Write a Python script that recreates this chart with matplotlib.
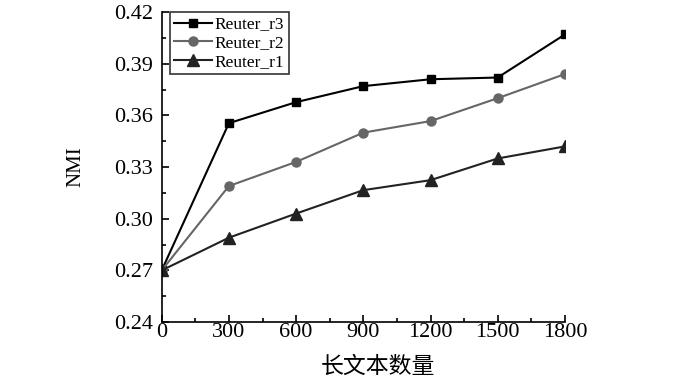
import matplotlib
matplotlib.use("Agg")
from matplotlib import pyplot as plt
from matplotlib.ticker import MultipleLocator, FormatStrFormatter

x = [0, 300, 600, 900, 1200, 1500, 1800]
r3 = [0.270, 0.3555, 0.3677, 0.377, 0.381, 0.382, 0.407]
r2 = [0.270, 0.319, 0.333, 0.350, 0.3567, 0.370, 0.384]
r1 = [0.270, 0.289, 0.303, 0.3166, 0.3224, 0.335, 0.342]

plt.rcParams['font.family'] = ['Liberation Serif', 'Noto Sans CJK SC']

fig = plt.figure(figsize=(7, 3.78), dpi=100)
ax = fig.add_axes([0.231, 0.148, 0.576, 0.82])

ax.plot(x, r3, color='black', marker='s', markersize=6, lw=1.5, label='Reuter_r3')
ax.plot(x, r2, color='#666666', marker='o', markersize=6.5, lw=1.5, label='Reuter_r2')
ax.plot(x, r1, color='#222222', marker='^', markersize=9, lw=1.5, label='Reuter_r1')

ax.set_xlim(0, 1800)
ax.set_ylim(0.24, 0.42)
ax.xaxis.set_major_locator(MultipleLocator(300))
ax.xaxis.set_minor_locator(MultipleLocator(150))
ax.yaxis.set_major_locator(MultipleLocator(0.03))
ax.yaxis.set_minor_locator(MultipleLocator(0.015))
ax.yaxis.set_major_formatter(FormatStrFormatter('%.2f'))
ax.tick_params(which='both', direction='in', labelsize=16, width=1.2)
ax.tick_params(which='major', length=5)
ax.tick_params(which='minor', length=3)
ax.tick_params(axis='y', pad=6)
ax.tick_params(axis='x', pad=1)
ax.spines['top'].set_visible(False)
ax.spines['right'].set_visible(False)
for s in ['left', 'bottom']:
    ax.spines[s].set_linewidth(1.2)

ax.set_ylabel('NMI', fontsize=15)
ax.yaxis.set_label_coords(-0.19, 0.5)
ax.set_xlabel('长文本数量', fontsize=16.5, family=['Noto Sans CJK SC'])
ax.xaxis.set_label_coords(0.535, -0.105)

leg = ax.legend(loc='upper left', fontsize=12.5, frameon=True, fancybox=False,
                edgecolor='black', handlelength=2.2, borderpad=0.25,
                labelspacing=0.15, handletextpad=0.15, borderaxespad=0.0,
                bbox_to_anchor=(0.02, 1.0))
leg.get_frame().set_linewidth(1.2)

fig.savefig('out.png', dpi=100)
